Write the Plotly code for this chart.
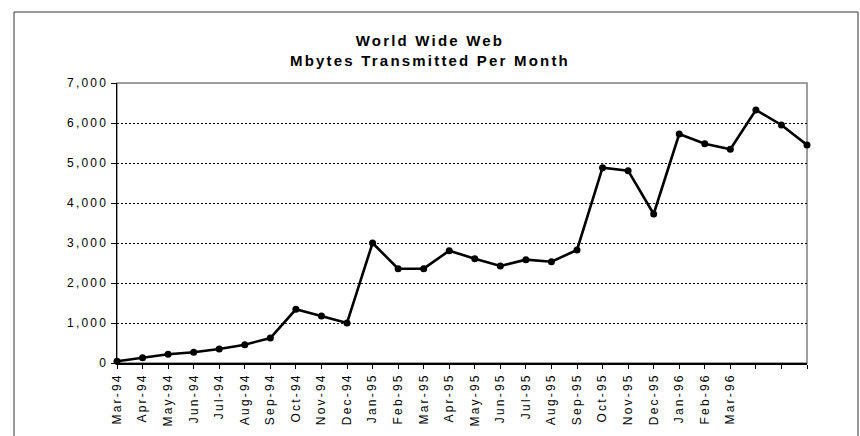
import json
import plotly.graph_objects as go

# ---- data ----
months = ["Mar-94", "Apr-94", "May-94", "Jun-94", "Jul-94", "Aug-94", "Sep-94",
          "Oct-94", "Nov-94", "Dec-94", "Jan-95", "Feb-95", "Mar-95", "Apr-95",
          "May-95", "Jun-95", "Jul-95", "Aug-95", "Sep-95", "Oct-95", "Nov-95",
          "Dec-95", "Jan-96", "Feb-96", "Mar-96", "Apr-96", "May-96", "Jun-96"]
mbytes = [42, 133, 217, 267, 350, 458, 625, 1342, 1175, 1000, 3000, 2358, 2358,
          2808, 2608, 2425, 2583, 2533, 2825, 4883, 4808, 3725, 5725, 5483, 5342,
          6325, 5950, 5450]
# the last three month labels are cut off in the original chart
tick_labels = months[:25] + ["", "", ""]
y_ticks = [0, 1000, 2000, 3000, 4000, 5000, 6000, 7000]
title_lines = ["World Wide Web", "Mbytes Transmitted Per Month"]

# ---- layout geometry (pixels) ----
W, H = 860, 436
ML, MR, MT, MB = 117, 53, 83, 73
PW, PH = W - ML - MR, H - MT - MB
FONT = "Liberation Sans, Arial, Helvetica, sans-serif"

fig = go.Figure()
fig.add_trace(go.Scatter(
    x=months, y=mbytes, mode="lines+markers",
    line=dict(color="black", width=2.6),
    marker=dict(color="black", size=7),
    cliponaxis=False, showlegend=False, hoverinfo="skip",
))

n = len(months)
fig.update_layout(
    width=W, height=H,
    margin=dict(l=ML, r=MR, t=MT, b=MB, pad=0, autoexpand=False),
    paper_bgcolor="white", plot_bgcolor="white",
    font=dict(family=FONT, color="black", size=12),
    title=dict(
        text="<br>".join(title_lines),
        x=0.5, xanchor="center", xref="container",
        y=1 - 46 / H, yanchor="top", yref="container",
        font=dict(family=FONT, size=15, color="black", weight="bold"),
    ),
    xaxis=dict(
        type="category", categoryorder="array", categoryarray=months,
        range=[0, n - 1], tickmode="array", tickvals=months, ticktext=tick_labels,
        tickangle=-90, ticks="outside", ticklen=4, tickwidth=1, tickcolor="black",
        showline=True, linecolor="black", linewidth=1.5,
        showgrid=False, zeroline=False, automargin=False,
        tickfont=dict(family=FONT, size=12, color="black"),
    ),
    xaxis2=dict(
        overlaying="x", anchor="y", side="bottom",
        range=[0, n - 1], tickmode="linear", tick0=0, dtick=1,
        ticks="inside", ticklen=4, tickwidth=1, tickcolor="black",
        showticklabels=False, showline=False, showgrid=False, zeroline=False,
    ),
    yaxis=dict(
        range=[0, 7000], tickmode="array", tickvals=y_ticks, tickformat=",d",
        ticks="outside", ticklen=5, tickwidth=1, tickcolor="black",
        showline=True, linecolor="black", linewidth=1.5,
        showgrid=True, gridcolor="black", gridwidth=1, griddash="2px,2px",
        zeroline=False, automargin=False,
        tickfont=dict(family=FONT, size=12, color="black"),
    ),
    shapes=[
        # gray plot-area border (top / right)
        dict(type="rect", xref="paper", yref="paper", x0=0, x1=1, y0=0, y1=1,
             line=dict(color="#808080", width=1.5), layer="below"),
        # outer chart frame
        dict(type="rect", xref="paper", yref="paper",
             x0=(14 - ML) / PW, x1=(858 - ML) / PW,
             y0=(MT + PH - 445) / PH, y1=(MT + PH - 12) / PH,
             line=dict(color="#333333", width=1), layer="below"),
    ],
)

css = ("body {margin: 0;} "
       ".xtick text, .ytick text {letter-spacing: 2.2px;} "
       ".gtitle {letter-spacing: 2.2px;}")
post = ("var s=document.createElement('style');s.textContent=" + json.dumps(css)
        + ";document.head.appendChild(s);")
fig.write_html("out.html", post_script=post,
               config={"displayModeBar": False, "staticPlot": True})
